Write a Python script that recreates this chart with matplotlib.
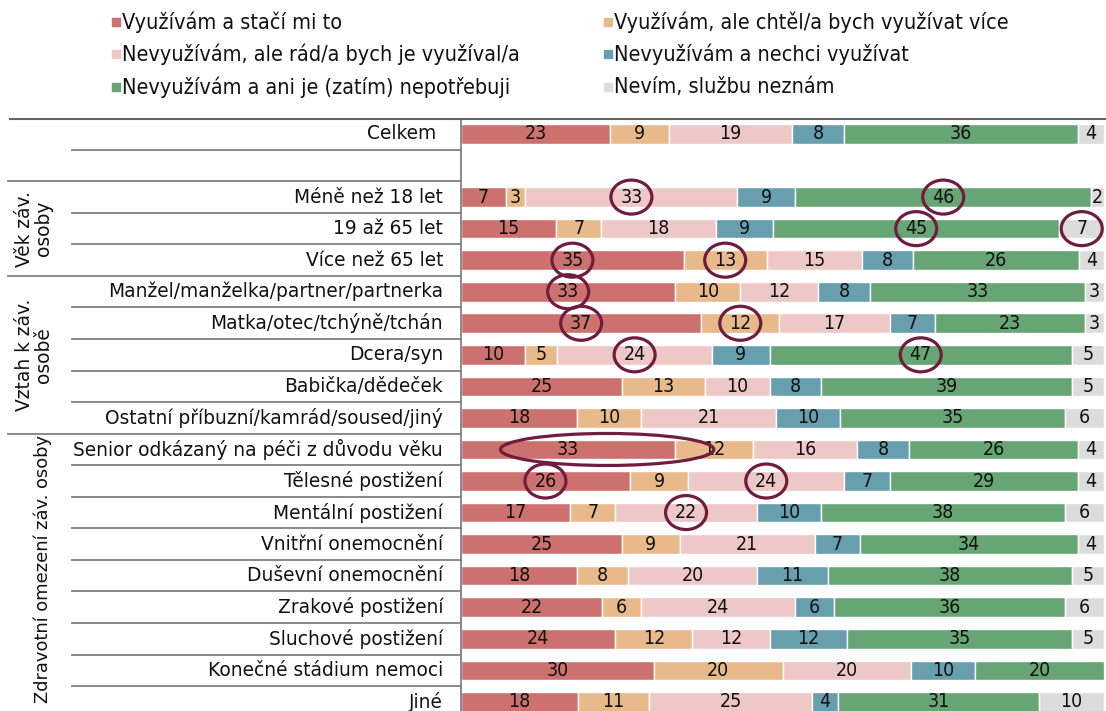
import matplotlib
matplotlib.use('Agg')
import matplotlib.pyplot as plt
from matplotlib.patches import Rectangle, Ellipse
from matplotlib.transforms import blended_transform_factory
from matplotlib import font_manager

series = ['Využívám a stačí mi to',
          'Využívám, ale chtěl/a bych využívat více',
          'Nevyužívám, ale rád/a bych je využíval/a',
          'Nevyužívám a nechci využívat',
          'Nevyužívám a ani je (zatím) nepotřebuji',
          'Nevím, službu neznám']
colors = ['#CD716E', '#E8B98B', '#EEC7C7', '#679FAF', '#67A674', '#DCDCDC']

rows = ['Celkem', '',
        'Méně než 18 let', '19 až 65 let', 'Více než 65 let',
        'Manžel/manželka/partner/partnerka', 'Matka/otec/tchýně/tchán',
        'Dcera/syn', 'Babička/dědeček', 'Ostatní příbuzní/kamrád/soused/jiný',
        'Senior odkázaný na péči z důvodu věku', 'Tělesné postižení',
        'Mentální postižení', 'Vnitřní onemocnění', 'Duševní onemocnění',
        'Zrakové postižení', 'Sluchové postižení', 'Konečné stádium nemoci', 'Jiné']

values = [
    [23, 9, 19, 8, 36, 4],
    None,
    [7, 3, 33, 9, 46, 2],
    [15, 7, 18, 9, 45, 7],
    [35, 13, 15, 8, 26, 4],
    [33, 10, 12, 8, 33, 3],
    [37, 12, 17, 7, 23, 3],
    [10, 5, 24, 9, 47, 5],
    [25, 13, 10, 8, 39, 5],
    [18, 10, 21, 10, 35, 6],
    [33, 12, 16, 8, 26, 4],
    [26, 9, 24, 7, 29, 4],
    [17, 7, 22, 10, 38, 6],
    [25, 9, 21, 7, 34, 4],
    [18, 8, 20, 11, 38, 5],
    [22, 6, 24, 6, 36, 6],
    [24, 12, 12, 12, 35, 5],
    [30, 20, 20, 10, 20, 0],
    [18, 11, 25, 4, 31, 10],
]

# skupiny: (text, prvni radek, posledni radek)
groups = [('Věk záv.\nosoby', 2, 4),
          ('Vztah k záv.\nosobě', 5, 9),
          ('Zdravotní omezení záv. osoby', 10, 18)]

# zakroužkované hodnoty (radek, serie)
circled = [(2, 2), (2, 4), (3, 4), (3, 5), (4, 0), (4, 1), (5, 0),
           (6, 0), (6, 1), (7, 2), (7, 4), (11, 0), (11, 2), (12, 2)]
ellipsed = (10, 0, 1)

plt.rcParams['font.family'] = ['DejaVu Sans']
has_cond = any(f.name == 'DejaVu Sans' and f.stretch == 'condensed'
               for f in font_manager.fontManager.ttflist)
if has_cond:
    num_font = dict(fontsize=14, fontstretch='condensed')
    leg_font = dict(fontsize=15.5, fontstretch='condensed')
else:
    num_font = dict(fontsize=12.5)
    leg_font = dict(fontsize=13.5)

W, H = 1106, 711
PX = 643 / 100      # pixelu na 1 %
ROW = 31.55         # pixelu na radek
fig = plt.figure(figsize=(W / 100, H / 100), dpi=100)
ax = fig.add_axes([461 / W, 0, 643 / W, (H - 119) / H])
ax.set_xlim(0, 100)
ax.set_ylim(18.29, -0.475)
ax.axis('off')

circ_color = '#701C3E'
for i, vals in enumerate(values):
    if vals is None:
        continue
    tot = sum(vals)
    left = 0
    for j, v in enumerate(vals):
        w = v * 100 / tot
        if v > 0:
            ax.barh(i, w, left=left, height=0.62, color=colors[j],
                    edgecolor='white', linewidth=1)
            ax.text(left + w / 2, i, str(v), ha='center', va='center',
                    color='#111111', **num_font)
        if (i, j) in circled:
            ax.add_patch(Ellipse((left + w / 2, i), 41 / PX, 34 / ROW,
                                 fill=False, edgecolor=circ_color,
                                 linewidth=2.3, zorder=5, clip_on=False))
        left += w

# elipsa pres dve hodnoty
r, a, b = ellipsed
tot = sum(values[r])
span = sum(values[r][a:b + 1]) * 100 / tot
start = sum(values[r][:a]) * 100 / tot
ax.add_patch(Ellipse((start + span / 2, r), span * 0.73, 32 / ROW, fill=False,
                     edgecolor=circ_color, linewidth=2.3, zorder=5))

# osa a mrizka tabulky
tr = blended_transform_factory(fig.transFigure, ax.transData)
line_c = '#808080'
ax.plot([461 / W, 461 / W], [-0.475, 18.29], transform=tr, color=line_c,
        lw=1.3, clip_on=False)
ax.plot([10 / W, 1], [-0.475, -0.475], transform=tr, color='#666666',
        lw=1.5, clip_on=False)
group_breaks = [1.5, 4.5, 9.5]
for k in range(len(rows) - 1):
    y = k + 0.5
    x0 = 8 / W if y in group_breaks else 72 / W
    ax.plot([x0, 461 / W], [y, y], transform=tr, color=line_c, lw=1.3,
            clip_on=False)

for i, lab in enumerate(rows):
    xr = 436 if lab == 'Celkem' else 443
    ax.text(xr / W, i, lab, transform=tr, ha='right', va='center',
            fontsize=13.4, color='#111111')

for txt, r0, r1 in groups:
    if '\n' in txt:
        ax.text(34 / W, (r0 + r1) / 2, txt, transform=tr, rotation=90,
                ha='center', va='center', fontsize=13.4, color='#111111',
                multialignment='center', linespacing=1.0)
    else:
        ax.text(43 / W, r0 - 0.47, txt, transform=tr, rotation=90,
                ha='center', va='top', fontsize=12.9, color='#111111')

# legenda
leg_pos = [(112, 22), (604, 22), (112, 54), (604, 54), (112, 87), (604, 87)]
for (lx, ly), name, c in zip(leg_pos, series, colors):
    fig.patches.append(Rectangle((lx / W, 1 - (ly + 4) / H), 8 / W, 8 / H,
                                 transform=fig.transFigure, color=c))
    fig.text((lx + 10) / W, 1 - ly / H, name, ha='left', va='center',
             color='#111111', **leg_font)

fig.savefig('out.png', dpi=100)
